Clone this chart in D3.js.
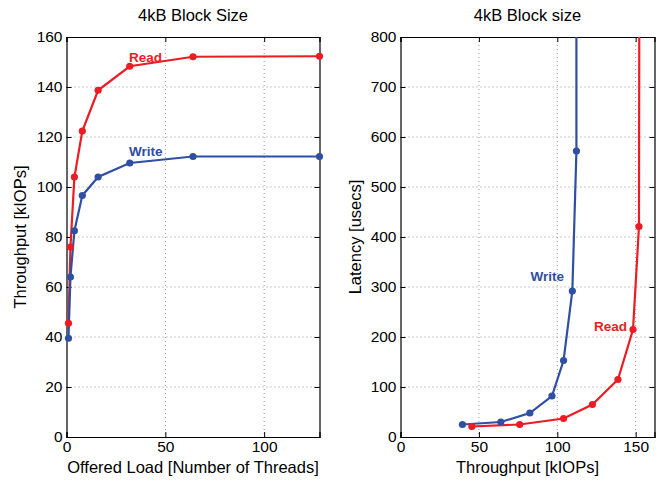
<!DOCTYPE html>
<html><head><meta charset="utf-8">
<script src="https://cdn.jsdelivr.net/npm/d3@7"></script>
<style>body{margin:0;background:#fff}text{font-family:"Liberation Sans",Arial,sans-serif}</style>
</head><body>
<svg id="c" width="666" height="482"></svg>
<script>
const threads = [1, 2, 4, 8, 16, 32, 64, 128];
const readThroughput = [45.5, 76, 104, 122.4, 138.7, 148.3, 152.1, 152.3];
const writeThroughput = [39.5, 64, 82.5, 96.6, 104, 109.6, 112.2, 112.2];
const readLatency = [21, 25, 37, 65, 115, 215, 421, 840];
const writeLatency = [25, 30, 48, 82, 153, 292, 572, 1140];
const leftYTicks = [0, 20, 40, 60, 80, 100, 120, 140, 160];
const leftXTicks = [0, 50, 100];
const rightYTicks = [0, 100, 200, 300, 400, 500, 600, 700, 800];
const rightXTicks = [0, 50, 100, 150];

const RED = "#ec1c24", BLUE = "#2f4fa2";
const svg = d3.select("#c");

function panel(o) {
  const g = svg.append("g");
  const x = d3.scaleLinear().domain(o.xd).range([o.x0, o.x1]);
  const y = d3.scaleLinear().domain(o.yd).range([o.y1, o.y0]);
  const clipId = "clip" + o.id;
  svg.append("clipPath").attr("id", clipId).append("rect")
    .attr("x", o.x0).attr("y", o.y0).attr("width", o.x1 - o.x0).attr("height", o.y1 - o.y0);
  // grid
  g.selectAll(".gx").data(o.xt.filter(v => x(v) > o.x0 + 1 && x(v) < o.x1 - 1)).join("line")
    .attr("x1", d => x(d)).attr("x2", d => x(d)).attr("y1", o.y0).attr("y2", o.y1)
    .attr("stroke", "#999").attr("stroke-width", 1).attr("stroke-dasharray", "1,3");
  g.selectAll(".gy").data(o.yt.filter(v => y(v) > o.y0 + 1 && y(v) < o.y1 - 1)).join("line")
    .attr("y1", d => y(d)).attr("y2", d => y(d)).attr("x1", o.x0).attr("x2", o.x1)
    .attr("stroke", "#999").attr("stroke-width", 1).attr("stroke-dasharray", "1,3");
  // axes
  const ax = [
    d3.axisBottom(x).tickValues(o.xt).tickSize(-5).tickPadding(4), [0, o.y1], true,
    d3.axisTop(x).tickValues(o.xt).tickSize(-5).tickFormat(""), [0, o.y0], false,
    d3.axisLeft(y).tickValues(o.yt).tickSize(-5).tickPadding(4), [o.x0, 0], true,
    d3.axisRight(y).tickValues(o.yt).tickSize(-5).tickFormat(""), [o.x1, 0], false
  ];
  for (let i = 0; i < ax.length; i += 3) {
    const a = g.append("g").attr("transform", `translate(${ax[i+1][0]},${ax[i+1][1]})`).call(ax[i]);
    a.select(".domain").attr("stroke", "#000").attr("stroke-width", 1.2);
    a.selectAll(".tick line").attr("stroke", "#000");
    a.selectAll("text").attr("font-size", 15.5).attr("fill", "#000")
      .attr("font-family", "'Liberation Sans',Arial,sans-serif");
  }
  const dg = g.append("g").attr("clip-path", `url(#${clipId})`);
  const mg = g.append("g");
  o.series.forEach(s => {
    const pts = s.xs.map((v, i) => [v, s.ys[i]]);
    dg.append("path").datum(pts).attr("fill", "none").attr("stroke", s.color).attr("stroke-width", 2.2)
      .attr("d", d3.line().x(d => x(d[0])).y(d => y(d[1])));
    mg.selectAll(null).data(pts.filter(d => d[1] <= o.yd[1] && d[0] <= o.xd[1])).join("circle")
      .attr("cx", d => x(d[0])).attr("cy", d => y(d[1]))
      .attr("r", 3.6).attr("fill", s.color);
  });
  o.labels.forEach(l => {
    g.append("text").attr("x", l.x).attr("y", l.y).attr("fill", l.color).attr("font-weight", "bold")
      .attr("font-size", 13.5).attr("text-anchor", l.anchor || "start").text(l.t);
  });
  g.append("text").attr("x", (o.x0 + o.x1) / 2).attr("y", o.y0 - 16).attr("text-anchor", "middle")
    .attr("font-size", 16.5).text(o.title);
  g.append("text").attr("x", (o.x0 + o.x1) / 2).attr("y", o.y1 + 36).attr("text-anchor", "middle")
    .attr("font-size", 16.5).text(o.xlabel);
  g.append("text").attr("transform", `translate(${o.ylx},${(o.y0 + o.y1) / 2}) rotate(-90)`)
    .attr("text-anchor", "middle").attr("font-size", 16.5).text(o.ylabel);
}

panel({
  id: 1, x0: 66.5, x1: 319.5, y0: 37, y1: 437, xd: [0, 128], yd: [0, 160],
  xt: leftXTicks, yt: leftYTicks, title: "4kB Block Size",
  xlabel: "Offered Load [Number of Threads]", ylabel: "Throughput [kIOPs]", ylx: 26,
  series: [
    {xs: threads, ys: readThroughput, color: RED},
    {xs: threads, ys: writeThroughput, color: BLUE}
  ],
  labels: [
    {x: 129, y: 62, t: "Read", color: RED},
    {x: 129, y: 156, t: "Write", color: BLUE}
  ]
});

panel({
  id: 2, x0: 400.5, x1: 654.5, y0: 37, y1: 437, xd: [0, 162], yd: [0, 800],
  xt: rightXTicks, yt: rightYTicks, title: "4kB Block size",
  xlabel: "Throughput [kIOPs]", ylabel: "Latency [usecs]", ylx: 361,
  series: [
    {xs: readThroughput, ys: readLatency, color: RED},
    {xs: writeThroughput, ys: writeLatency, color: BLUE}
  ],
  labels: [
    {x: 564, y: 281, t: "Write", color: BLUE, anchor: "end"},
    {x: 627, y: 331, t: "Read", color: RED, anchor: "end"}
  ]
});
</script>
</body></html>
